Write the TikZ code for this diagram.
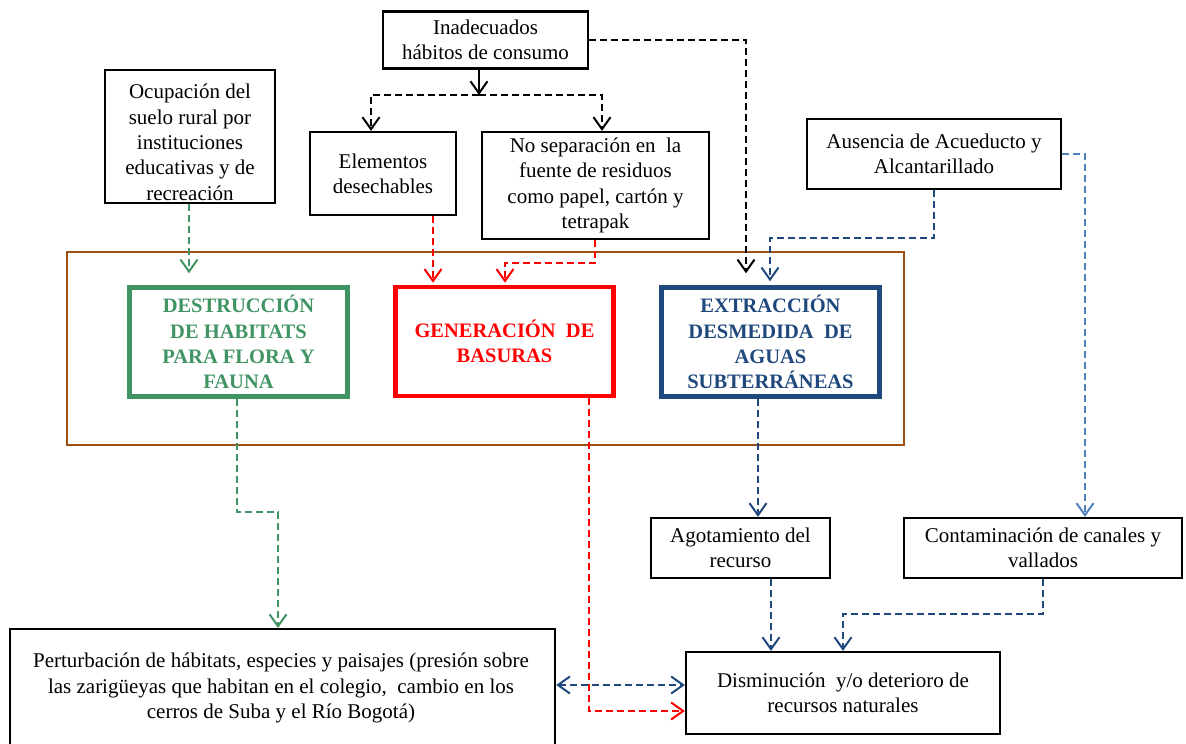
\documentclass[tikz,border=0pt]{standalone}
\usepackage{fontspec}
\setmainfont{Liberation Serif}
\usetikzlibrary{arrows.meta}
\definecolor{grn}{RGB}{64,148,100}
\definecolor{dblue}{RGB}{31,73,125}
\definecolor{lblue}{RGB}{79,129,189}
\definecolor{brn}{RGB}{158,80,18}
\definecolor{rd}{RGB}{255,0,0}
\begin{document}
\begin{tikzpicture}[x=1pt,y=-1pt,
  every node/.style={font=\fontsize{21}{25.3}\selectfont, align=center, inner sep=0pt},
  box/.style={draw=black, line width=2.2pt},
  keybox/.style={draw, line width=4.5pt, minimum width=218pt, minimum height=109pt,
    font=\fontsize{20.5}{25.3}\selectfont\bfseries},
  tip/.style={-{Straight Barb[length=12pt,width=17pt,line width=2pt]}},
  link/.style={tip, dashed, dash pattern=on 7pt off 4pt, line width=2.2pt},
  solidlink/.style={tip, line width=2.2pt},
]
\useasboundingbox (0,0) rectangle (1186,744);
\clip (0,0) rectangle (1186,744);

% outer frame around the three main problems
\node[draw=brn, line width=2pt, minimum width=837pt, minimum height=193pt] (frame) at (485.5,348.5) {};

% causes
\node[box, minimum width=205pt, minimum height=57pt] (inad) at (485.5,40)
  {Inadecuados\\hábitos de consumo};
\node[box, minimum width=146pt, minimum height=83pt] (elem) at (383,173.5)
  {Elementos\\desechables};
\node[box, minimum width=227pt, minimum height=107pt] (nosep) at (595.5,185.5)
  {No separación en\ \ la\\fuente de residuos\\como papel, cartón y\\tetrapak};
\node[box, minimum width=170pt, minimum height=133pt] (ocup) at (190,136.5)
  {\rule{0pt}{26pt}Ocupación del\\suelo rural por\\instituciones\\educativas y de\\recreación};
\node[box, minimum width=254pt, minimum height=70pt] (ausen) at (934,154)
  {Ausencia de Acueducto y\\Alcantarillado};

% main problems
\node[keybox, draw=grn, text=grn] (dest) at (238.5,342)
  {DESTRUCCIÓN\\DE HABITATS\\PARA FLORA Y\\FAUNA};
\node[keybox, draw=rd, text=rd] (gen) at (504.5,341.5)
  {GENERACIÓN\ \ DE\\BASURAS};
\node[keybox, draw=dblue, text=dblue] (ext) at (770.5,342)
  {EXTRACCIÓN\\DESMEDIDA\ \ DE\\AGUAS\\SUBTERRÁNEAS};

% consequences
\node[box, minimum width=179pt, minimum height=60pt] (agot) at (740.5,548)
  {Agotamiento del\\recurso};
\node[box, minimum width=278pt, minimum height=60pt] (cont) at (1043,548)
  {Contaminación de canales y\\vallados};
\node[box, minimum width=314pt, minimum height=82pt] (dism) at (843,693)
  {Disminución\ \ y/o deterioro de\\recursos naturales};
\node[box, minimum width=545pt, minimum height=200pt, anchor=north west] (pert) at (9,628) {};
\node (perttext) at (281,688)
  {Perturbación de hábitats, especies y paisajes (presión sobre\\
   las zarigüeyas que habitan en el colegio,\ \ cambio en los\\
   cerros de Suba y el Río Bogotá)};

% consumption habits branch
\coordinate (split) at (479,95);
\draw[solidlink] (inad.south -| split) -- (split);
\draw[link] (split) -- (371,95) -- (371,0 |- elem.north);
\draw[link] (split) -- (602,95) -- (602,0 |- nosep.north);
\draw[link, shorten >=12pt] (inad.east) -| (746,0 |- ext.north);

% water supply branch
\draw[link, dblue, shorten >=4pt] (ausen.south) |- (770,238) -- (770,0 |- ext.north);
\draw[link, lblue] (ausen.east) -| (1085,0 |- cont.north);

% into the main problems
\draw[link, grn, shorten >=12pt] (189,0 |- ocup.south) -- (189,0 |- dest.north);
\draw[link, rd, shorten >=2pt] (433,0 |- elem.south) -- (433,0 |- gen.north);
\draw[link, rd, shorten >=2pt] (595,0 |- nosep.south) -- (595,263) -| (505,0 |- gen.north);

% out of the main problems
\draw[link, grn] (237,0 |- dest.south) -- (237,512) -| (278,0 |- pert.north);
\draw[link, rd] (589,0 |- gen.south) |- (dism.west |- 0,711);
\draw[link, dblue] (758,0 |- ext.south) -- (758,0 |- agot.north);
\draw[link, dblue] (771,0 |- agot.south) -- (771,0 |- dism.north);
\draw[link, dblue] (1043,0 |- cont.south) -- (1043,614) -| (843,0 |- dism.north);
\draw[link, dblue, {Straight Barb[length=12pt,width=17pt,line width=2pt]}-{Straight Barb[length=12pt,width=17pt,line width=2pt]}]
  (pert.east |- 0,685) -- (dism.west |- 0,685);
\end{tikzpicture}
\end{document}
